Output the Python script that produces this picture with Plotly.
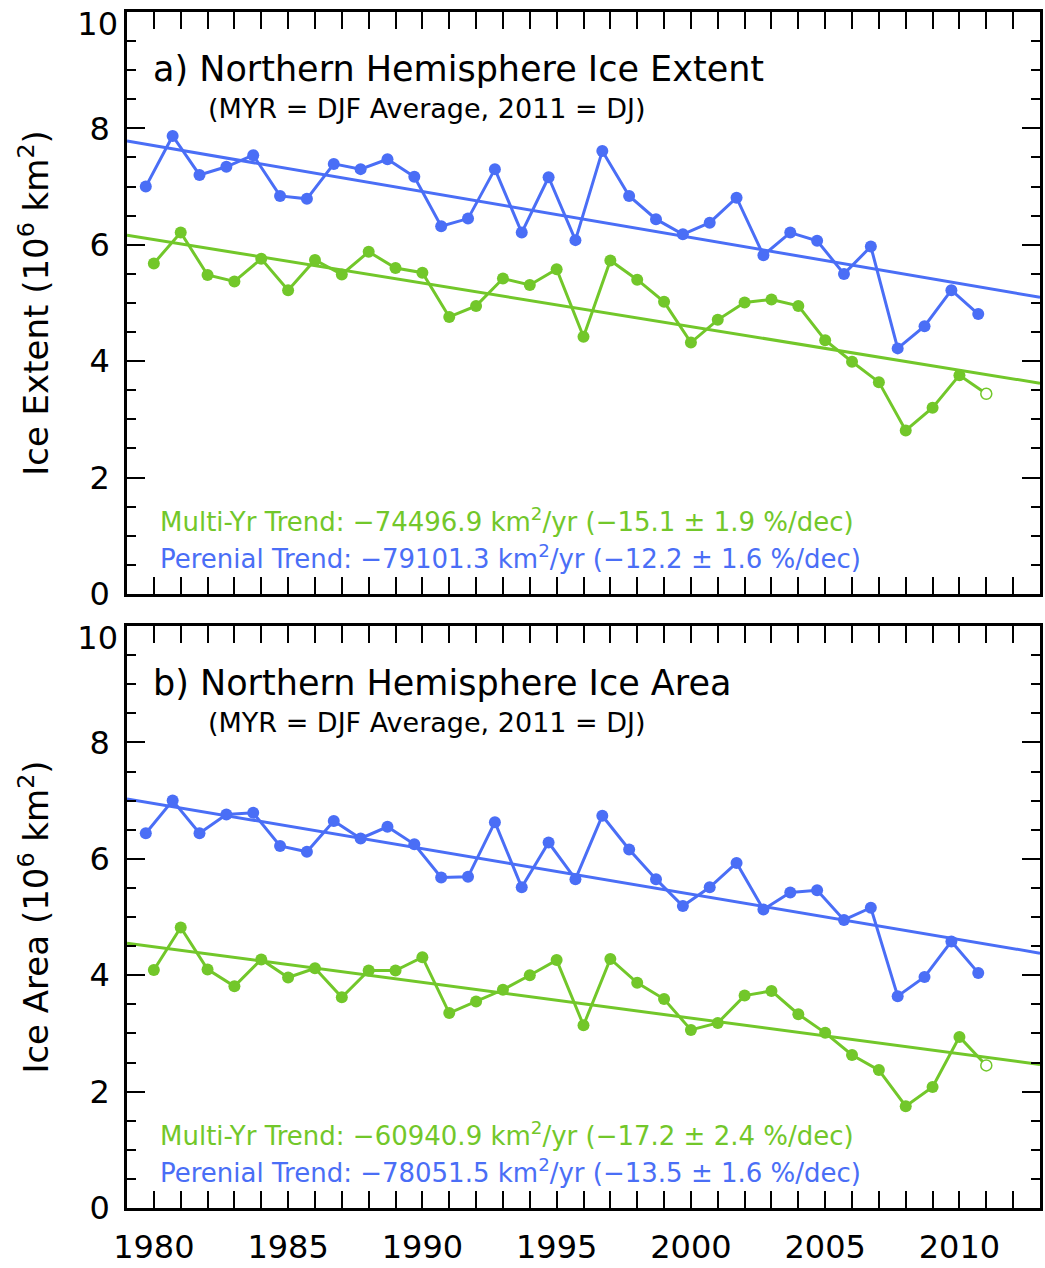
import numpy as np
import plotly.graph_objects as go

# ---------------- data ----------------
perennial_years = list(range(1979, 2011))          # plotted at year + 0.7 (September)
myr_years = list(range(1980, 2012))                # DJF average, 2011 = DJ only

extent_perennial = [7.00, 7.87, 7.20, 7.34, 7.54, 6.84, 6.79, 7.39, 7.30, 7.47,
                    7.17, 6.32, 6.45, 7.30, 6.21, 7.16, 6.08, 7.61, 6.84, 6.44,
                    6.18, 6.38, 6.81, 5.82, 6.21, 6.07, 5.50, 5.97, 4.22, 4.60,
                    5.22, 4.81]
extent_myr = [5.68, 6.21, 5.48, 5.37, 5.76, 5.22, 5.74, 5.49, 5.88, 5.60,
              5.52, 4.76, 4.95, 5.42, 5.31, 5.58, 4.42, 5.73, 5.40, 5.02,
              4.32, 4.71, 5.01, 5.06, 4.95, 4.36, 3.99, 3.64, 2.81, 3.20,
              3.76, 3.44]

area_perennial = [6.44, 7.00, 6.44, 6.76, 6.79, 6.22, 6.12, 6.65, 6.35, 6.55,
                  6.25, 5.68, 5.69, 6.63, 5.51, 6.28, 5.65, 6.74, 6.16, 5.65,
                  5.19, 5.51, 5.93, 5.13, 5.42, 5.46, 4.95, 5.16, 3.64, 3.97,
                  4.58, 4.04]
area_myr = [4.09, 4.82, 4.10, 3.81, 4.27, 3.96, 4.12, 3.62, 4.08, 4.08,
            4.31, 3.35, 3.55, 3.75, 4.00, 4.26, 3.14, 4.28, 3.87, 3.59,
            3.06, 3.18, 3.65, 3.73, 3.33, 3.01, 2.63, 2.37, 1.75, 2.08,
            2.94, 2.45]

x_range = [1979, 2013]
x_tick_vals = [1980, 1985, 1990, 1995, 2000, 2005, 2010]
y_tick_vals = [0, 2, 4, 6, 8]
y_top_label = "10"

titles = ["a) Northern Hemisphere Ice Extent", "b) Northern Hemisphere Ice Area"]
subtitle = "(MYR = DJF Average, 2011 = DJ)"
ytitles = ["Ice Extent (10<sup>6</sup> km<sup>2</sup>)", "Ice Area (10<sup>6</sup> km<sup>2</sup>)"]
myr_trend_text = ["Multi-Yr Trend: −74496.9 km<sup>2</sup>/yr (−15.1 ± 1.9 %/dec)",
                  "Multi-Yr Trend: −60940.9 km<sup>2</sup>/yr (−17.2 ± 2.4 %/dec)"]
per_trend_text = ["Perenial Trend: −79101.3 km<sup>2</sup>/yr (−12.2 ± 1.6 %/dec)",
                  "Perenial Trend: −78051.5 km<sup>2</sup>/yr (−13.5 ± 1.6 %/dec)"]

# ---------------- styling ----------------
BLUE = "#4a6ef6"
GREEN = "#72c72a"
FONT = "DejaVu Sans"
LW = 3
MS = 12

fig = go.Figure()

per_x = np.array(perennial_years) + 0.7
myr_x = np.array(myr_years, dtype=float)

panels = [(extent_perennial, extent_myr, "x", "y", "y3"),
          (area_perennial, area_myr, "x2", "y2", "y4")]

for i, (per, myr, xa, ya, ylab) in enumerate(panels):
    per = np.array(per)
    myr = np.array(myr)
    # trend lines (least squares)
    xx = np.array(x_range, dtype=float)
    cp = np.polyfit(per_x, per, 1)
    cm = np.polyfit(myr_x, myr, 1)
    fig.add_trace(go.Scatter(x=xx, y=np.polyval(cp, xx), mode="lines",
                             line=dict(color=BLUE, width=LW), xaxis=xa, yaxis=ya,
                             showlegend=False, hoverinfo="skip"))
    fig.add_trace(go.Scatter(x=xx, y=np.polyval(cm, xx), mode="lines",
                             line=dict(color=GREEN, width=LW), xaxis=xa, yaxis=ya,
                             showlegend=False, hoverinfo="skip"))
    # perennial series
    fig.add_trace(go.Scatter(x=per_x, y=per, mode="lines+markers",
                             line=dict(color=BLUE, width=LW),
                             marker=dict(color=BLUE, size=MS, symbol="circle"),
                             xaxis=xa, yaxis=ya, showlegend=False))
    # multi-year series (all points connected)
    fig.add_trace(go.Scatter(x=myr_x, y=myr, mode="lines",
                             line=dict(color=GREEN, width=LW),
                             xaxis=xa, yaxis=ya, showlegend=False))
    fig.add_trace(go.Scatter(x=myr_x[:-1], y=myr[:-1], mode="markers",
                             marker=dict(color=GREEN, size=MS, symbol="circle"),
                             xaxis=xa, yaxis=ya, showlegend=False))
    fig.add_trace(go.Scatter(x=myr_x[-1:], y=myr[-1:], mode="markers",
                             marker=dict(color="white", size=11, symbol="circle",
                                         line=dict(color=GREEN, width=1.5)),
                             xaxis=xa, yaxis=ya, showlegend=False))
    # empty trace so the label-only overlay axis gets drawn
    fig.add_trace(go.Scatter(x=[None], y=[None], mode="markers", xaxis=xa, yaxis=ylab,
                             showlegend=False, hoverinfo="skip"))

    xr = "x domain" if xa == "x" else "x2 domain"
    yr = "y domain" if ya == "y" else "y2 domain"
    fig.add_annotation(text=titles[i], xref=xr, yref=yr, x=0.026, y=0.902,
                       xanchor="left", yanchor="middle", showarrow=False,
                       font=dict(family=FONT, size=35, color="black"))
    fig.add_annotation(text=subtitle, xref=xr, yref=yr, x=0.087, y=0.835,
                       xanchor="left", yanchor="middle", showarrow=False,
                       font=dict(family=FONT, size=27, color="black"))
    fig.add_annotation(text=myr_trend_text[i], xref=xr, yref=yr, x=0.034, y=0.127,
                       xanchor="left", yanchor="middle", showarrow=False,
                       font=dict(family=FONT, size=26, color=GREEN))
    fig.add_annotation(text=per_trend_text[i], xref=xr, yref=yr, x=0.034, y=0.063,
                       xanchor="left", yanchor="middle", showarrow=False,
                       font=dict(family=FONT, size=26, color=BLUE))

TICKFONT = dict(family=FONT, size=32, color="black")
common_x = dict(range=x_range, tickvals=x_tick_vals, ticks="inside", ticklen=17,
                tickwidth=2, tickcolor="black", showline=True, linewidth=2.5,
                linecolor="black", mirror="allticks", showgrid=False, zeroline=False,
                minor=dict(dtick=1, tick0=1979, ticks="inside", ticklen=9, tickwidth=2,
                           tickcolor="black", showgrid=False),
                tickfont=TICKFONT, automargin=False)
common_y = dict(range=[0, 10], tickvals=y_tick_vals, ticks="inside", ticklen=18,
                tickwidth=2, tickcolor="black", showline=True, linewidth=2.5,
                linecolor="black", mirror="allticks", showgrid=False, zeroline=False,
                minor=dict(dtick=0.5, tick0=0, ticks="inside", ticklen=9, tickwidth=2,
                           tickcolor="black", showgrid=False),
                tickfont=TICKFONT, ticklabelstandoff=8, automargin=False)
# overlay axes carrying only the top "10" label, set slightly below the frame as in the reference
label_y = dict(range=[0, 10], tickvals=[9.8], ticktext=[y_top_label], ticks="",
               showline=False, showgrid=False, zeroline=False, side="left",
               tickfont=TICKFONT, ticklabelstandoff=8, automargin=False)

fig.update_layout(
    width=1045, height=1268,
    margin=dict(l=127, r=5, t=12, b=60),
    plot_bgcolor="white", paper_bgcolor="white",
    xaxis=dict(common_x, domain=[0, 1], anchor="y", showticklabels=False),
    xaxis2=dict(common_x, domain=[0, 1], anchor="y2", ticklabelstandoff=9),
    yaxis=dict(common_y, domain=[0.5134, 1], anchor="x",
               title=dict(text=ytitles[0], font=dict(family=FONT, size=34, color="black"),
                          standoff=31)),
    yaxis2=dict(common_y, domain=[0, 0.4866], anchor="x2",
                title=dict(text=ytitles[1], font=dict(family=FONT, size=34, color="black"),
                           standoff=31)),
    yaxis3=dict(label_y, overlaying="y", anchor="x"),
    yaxis4=dict(label_y, overlaying="y2", anchor="x2"),
    showlegend=False,
)

fig.write_html("out.html")
